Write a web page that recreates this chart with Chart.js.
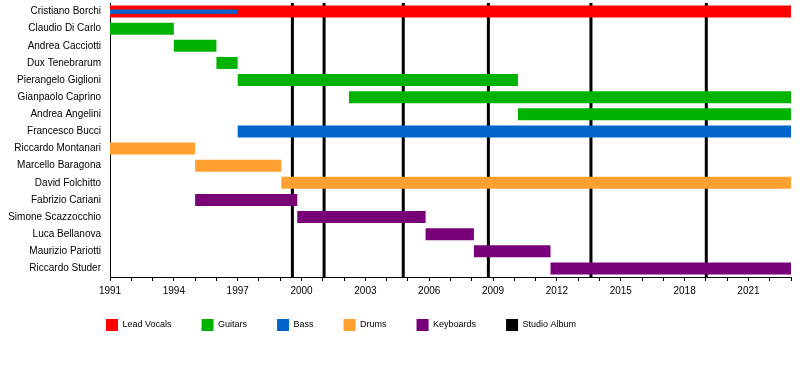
<!DOCTYPE html>
<html>
<head>
<meta charset="utf-8">
<style>
  html, body { margin: 0; padding: 0; background: #ffffff; }
  #wrap { width: 800px; height: 375px; }
</style>
<script src="https://cdn.jsdelivr.net/npm/chart.js@4/dist/chart.umd.min.js"></script>
</head>
<body>
<div id="wrap"><canvas id="c" width="800" height="375"></canvas></div>
<script>
// ---- Data (years) ----
const members = [
  'Cristiano Borchi', 'Claudio Di Carlo', 'Andrea Cacciotti', 'Dux Tenebrarum',
  'Pierangelo Giglioni', 'Gianpaolo Caprino', 'Andrea Angelini', 'Francesco Bucci',
  'Riccardo Montanari', 'Marcello Baragona', 'David Folchitto', 'Fabrizio Cariani',
  'Simone Scazzocchio', 'Luca Bellanova', 'Maurizio Pariotti', 'Riccardo Studer'
];
const leadVocals = [
  { member: 'Cristiano Borchi', from: 1991, to: 2023 }
];
const bassSecondary = [
  { member: 'Cristiano Borchi', from: 1991, to: 1997 }
];
const guitars = [
  { member: 'Claudio Di Carlo', from: 1991, to: 1994 },
  { member: 'Andrea Cacciotti', from: 1994, to: 1996 },
  { member: 'Dux Tenebrarum', from: 1996, to: 1997 },
  { member: 'Pierangelo Giglioni', from: 1997, to: 2010.17 },
  { member: 'Gianpaolo Caprino', from: 2002.23, to: 2023 },
  { member: 'Andrea Angelini', from: 2010.17, to: 2023 }
];
const bass = [
  { member: 'Francesco Bucci', from: 1997, to: 2023 }
];
const drums = [
  { member: 'Riccardo Montanari', from: 1991, to: 1995 },
  { member: 'Marcello Baragona', from: 1995, to: 1999.05 },
  { member: 'David Folchitto', from: 1999.05, to: 2023 }
];
const keyboards = [
  { member: 'Fabrizio Cariani', from: 1995, to: 1999.8 },
  { member: 'Simone Scazzocchio', from: 1999.8, to: 2005.83 },
  { member: 'Luca Bellanova', from: 2005.83, to: 2008.1 },
  { member: 'Maurizio Pariotti', from: 2008.1, to: 2011.7 },
  { member: 'Riccardo Studer', from: 2011.7, to: 2023 }
];
const studioAlbums = [1999.57, 2001.06, 2004.78, 2008.78, 2013.6, 2019.02];
const xTickLabels = [1991, 1994, 1997, 2000, 2003, 2006, 2009, 2012, 2015, 2018, 2021];
const yearMin = 1991;
const yearMax = 2023;

// ---- Helpers ----
const toBars = spans => spans.map(s => ({ y: s.member, x: [s.from, s.to] }));
const albumPoints = studioAlbums.flatMap(yr => [
  { x: yr, y: 0 }, { x: yr, y: 1 }, { x: yr, y: null }
]);
const FONT = "'Liberation Sans', Arial, Helvetica, sans-serif";
const HIDDEN_LABEL = 'Bass (founder)';

const barBase = {
  type: 'bar',
  grouped: false,
  categoryPercentage: 1.0,
  barPercentage: 0.70,
  borderWidth: 0,
  xAxisID: 'x',
  yAxisID: 'y',
  order: 0
};

// let axis labels draw outside their (narrowed) axis boxes
const unclipAxisLabels = {
  id: 'unclipAxisLabels',
  afterLayout(chart) {
    chart.scales.y.left = 0;
    chart.scales.x.bottom = chart.scales.x.top + 30;
  }
};

new Chart(document.getElementById('c'), {
  type: 'bar',
  plugins: [unclipAxisLabels],
  data: {
    labels: members,
    datasets: [
      Object.assign({}, barBase, { label: 'Lead Vocals', data: toBars(leadVocals), backgroundColor: '#ff0000' }),
      Object.assign({}, barBase, { label: 'Guitars', data: toBars(guitars), backgroundColor: '#00b300' }),
      Object.assign({}, barBase, { label: 'Bass', data: toBars(bass), backgroundColor: '#0066cc' }),
      Object.assign({}, barBase, { label: 'Drums', data: toBars(drums), backgroundColor: '#ffa030' }),
      Object.assign({}, barBase, { label: 'Keyboards', data: toBars(keyboards), backgroundColor: '#780078' }),
      {
        type: 'line',
        label: 'Studio Album',
        indexAxis: 'x',
        data: albumPoints,
        xAxisID: 'x',
        yAxisID: 'yl',
        borderColor: '#000000',
        backgroundColor: '#000000',
        borderWidth: 3,
        pointRadius: 0,
        pointHoverRadius: 0,
        fill: false,
        spanGaps: false,
        tension: 0,
        order: 1
      },
      Object.assign({}, barBase, {
        label: HIDDEN_LABEL, data: toBars(bassSecondary), backgroundColor: '#0066cc',
        barPercentage: 0.25, order: -1
      })
    ]
  },
  options: {
    indexAxis: 'y',
    responsive: false,
    animation: false,
    events: [],
    layout: { padding: { top: 3, left: 76, right: 9, bottom: 34 } },
    font: { family: FONT },
    scales: {
      x: {
        type: 'linear',
        position: 'bottom',
        min: yearMin,
        max: yearMax,
        afterFit: s => { s.height = 12; },
        grid: {
          display: true,
          drawOnChartArea: false,
          drawTicks: true,
          tickLength: 4,
          color: '#000000',
          lineWidth: 1
        },
        border: { display: true, color: '#000000', width: 1 },
        ticks: {
          stepSize: 1,
          autoSkip: false,
          maxRotation: 0,
          minRotation: 0,
          padding: 4,
          color: '#000000',
          font: { family: FONT, size: 10 },
          callback: v => (xTickLabels.includes(v) ? String(v) : '')
        }
      },
      y: {
        type: 'category',
        labels: members,
        offset: true,
        afterFit: s => { s.width = 34; },
        grid: {
          display: true,
          drawOnChartArea: false,
          drawTicks: true,
          tickLength: 9,
          tickColor: 'rgba(0,0,0,0)',
          color: '#000000'
        },
        border: { display: true, color: '#000000', width: 1 },
        ticks: {
          autoSkip: false,
          padding: 0,
          color: '#000000',
          font: { family: FONT, size: 10, lineHeight: 0.6 }
        }
      },
      yl: {
        type: 'linear',
        axis: 'y',
        position: 'left',
        min: 0,
        max: 1,
        offset: false,
        grace: 0,
        grid: { offset: false },
        display: false
      }
    },
    plugins: {
      tooltip: { enabled: false },
      legend: {
        display: true,
        position: 'bottom',
        align: 'start',
        fullSize: true,
        labels: {
          boxWidth: 12,
          boxHeight: 12,
          padding: 30,
          color: '#000000',
          font: { family: FONT, size: 9 },
          filter: item => item.text !== HIDDEN_LABEL,
          generateLabels: chart => {
            const items = Chart.defaults.plugins.legend.labels.generateLabels(chart);
            return items.map(it => Object.assign(it, { lineWidth: 0 }));
          }
        }
      }
    }
  }
});
</script>
</body>
</html>
